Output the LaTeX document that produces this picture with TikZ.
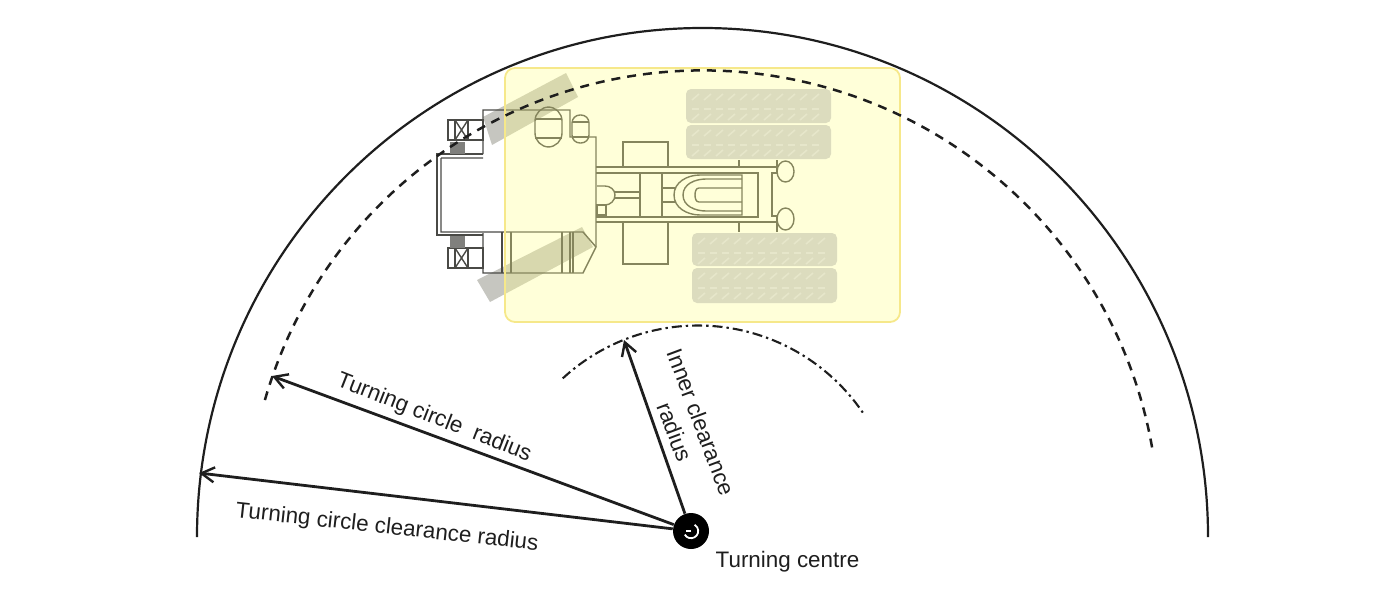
\documentclass[tikz,border=0pt]{standalone}
\usepackage{fontspec}
\setmainfont{Liberation Sans}
\usetikzlibrary{arrows.meta}
\definecolor{ink}{HTML}{1E1E1E}
\definecolor{mech}{HTML}{4A4A46}
\definecolor{tyrefront}{HTML}{C6C6C0}
\definecolor{tyrerear}{HTML}{DCDCBE}
\definecolor{tread}{HTML}{E6E6CA}
\definecolor{panel}{HTML}{FFFF8C}
\definecolor{panelrim}{HTML}{F6E88A}
\tikzset{
  x=0.5pt,y=-0.5pt,
  mechline/.style={draw=mech,line width=0.7pt},
  bigarc/.style={draw=ink,line width=1.1pt},
  radiusarrow/.style={draw=ink,line width=1.4pt,-{Straight Barb[length=6.5pt,width=7.5pt,line width=1.2pt]}},
  lbl/.style={text=ink,font=\fontsize{11.2}{14}\selectfont,inner sep=0pt},
}
\begin{document}
\begin{tikzpicture}
\useasboundingbox (0,0) rectangle (1400,605);
% front tyres
\fill[tyrefront] (483,117) -- (566,73) -- (578,97) -- (492,145) -- cycle;
\fill[tyrefront] (477,280) -- (582,227) -- (593,247) -- (490,302) -- cycle;
% machine outline
\draw[mechline] (483,154) -- (483,110) -- (570,110) -- (570,137) -- (596,137) -- (596,247) -- (583,273) -- (483,273) -- (483,233);
\draw[mechline] (483,154) -- (437,154) -- (437,235) -- (483,235);
\draw[mechline] (441,158) -- (483,158) (441,158) -- (441,232) -- (583,232) -- (596,247);
% X boxes
\foreach \yt in {120,248}{
  \draw[mechline] (448,\yt) rectangle (483,\yt+20);
  \draw[mechline] (455,\yt) -- (455,\yt+20) (468,\yt) -- (468,\yt+20);
  \draw[mechline] (455,\yt) -- (468,\yt+20) (468,\yt) -- (455,\yt+20);
}
\fill[mech!70] (450,142) rectangle (465,154);
\fill[mech!70] (450,236) rectangle (465,248);
% counterweight lines
\foreach \xa in {502,511,562,570,573}{\draw[mechline] (\xa,232) -- (\xa,273);}
% tanks
\draw[mechline,rounded corners=7pt] (535,107) rectangle (562,147);
\draw[mechline] (535,119) -- (562,119) (535,138) -- (562,138);
\draw[mechline,rounded corners=4pt] (572,115) rectangle (589,143);
\draw[mechline] (572,122) -- (589,122) (572,137) -- (589,137);
% chassis
\draw[mechline] (596,167) -- (777,167) (596,173) -- (758,173) -- (758,217) -- (596,217) (596,222) -- (777,222);
\draw[mechline] (623,167) -- (623,142) -- (668,142) -- (668,167);
\draw[mechline] (623,222) -- (623,264) -- (668,264) -- (668,222);
\draw[mechline] (662,173) -- (662,217) (640,173) -- (640,217);
\draw[mechline] (597,186) -- (605,186) to[out=0,in=90] (615,195) to[out=-90,in=0] (605,205) -- (597,205);
\draw[mechline] (615,192) -- (640,192) (615,198) -- (640,198);
\draw[mechline] (597,205) rectangle (606,215);
% U shape
\draw[mechline] (742,175) -- (700,175) to[out=180,in=90] (674,195) to[out=-90,in=180] (700,215) -- (742,215) -- cycle;
\draw[mechline] (742,179) -- (706,179) to[out=180,in=90] (683,195) to[out=-90,in=180] (706,211) -- (742,211);
\draw[mechline] (742,188) -- (699,188) to[out=180,in=90] (695,195) to[out=-90,in=180] (699,202) -- (742,202);
\draw[mechline] (662,188) -- (675,188) (662,202) -- (675,202);
% rear end
\draw[mechline] (778,173) -- (772,173) -- (772,216) -- (778,216);
\draw[mechline] (785.5,171.5) ellipse[x radius=8.5,y radius=10.5];
\draw[mechline] (785.5,219) ellipse[x radius=8.5,y radius=11];
\draw[mechline] (739,160) -- (739,167) (739,222) -- (739,232) (777,160) -- (777,173) (777,216) -- (777,232);
% yellow panel
\fill[panel,opacity=0.33,rounded corners=5pt] (505,68) rectangle (900,322);
\draw[panelrim,line width=0.9pt,rounded corners=5pt] (505,68) rectangle (900,322);
% rear tyres
\foreach \xl/\yt/\xr/\yb in {686/89/831/123,686/125/831/159,692/233/837/266,692/268/837/303}{
  \fill[tyrerear,rounded corners=2.5pt] (\xl,\yt) rectangle (\xr,\yb);
  \foreach \i in {0,...,10}{
    \draw[tread,line width=0.8pt] (\xl+6+\i*12,\yt+11) -- (\xl+13+\i*12,\yt+5);
    \draw[tread,line width=0.8pt] (\xl+6+\i*12,\yt+20) -- (\xl+13+\i*12,\yt+20);
    \draw[tread,line width=0.8pt] (\xl+6+\i*12,\yt+31) -- (\xl+13+\i*12,\yt+25);
  }
}
% guide arcs
\coordinate (co) at (702.5,537);
\coordinate (cd) at (703,526.5);
\coordinate (ci) at (698,525);
\draw[bigarc] ([shift={(180:252.75pt and 254.5pt)}]co) arc[start angle=180,end angle=0,x radius=252.75pt,y radius=254.5pt];
\draw[ink,line width=1.25pt,dash pattern=on 4.5pt off 3.5pt] ([shift={(163.9:228pt)}]cd) arc[start angle=163.9,end angle=9.4,radius=228pt];
\draw[ink,line width=1.05pt,dash pattern=on 5pt off 2pt on 1.2pt off 2pt] ([shift={(132.7:99.75pt)}]ci) arc[start angle=132.7,end angle=34.3,radius=99.75pt];
% centre
\node[circle,fill=black,minimum size=18pt,inner sep=0pt] (tc) at (691,531) {};
\draw[white,line width=0.9pt] ([shift={(-150:3.6pt)}]tc.center) arc[start angle=-150,end angle=60,radius=3.6pt];
\draw[white,line width=0.9pt] (tc.center) -- ++(-5,0);
% free ends
\coordinate (tipA) at (272,376);
\coordinate (tipB) at (199,473);
\coordinate (tipC) at (624,340);
\draw[radiusarrow] (tc) -- (tipA);
\draw[radiusarrow] (tc) -- (tipB);
\draw[radiusarrow] (tc) -- (tipC);
% labels
\node[lbl,rotate=-21.5] (l1) at (434,418) {Turning circle\ \ radius};
\node[lbl,rotate=-6.3] (l2) at (387,528) {Turning circle clearance radius};
\node[lbl,rotate=-69.5,align=center] (l3) at (688,427) {Inner clearance\\radius};
\node[lbl] (l4) at (787.5,562) {Turning centre};
\end{tikzpicture}
\end{document}
